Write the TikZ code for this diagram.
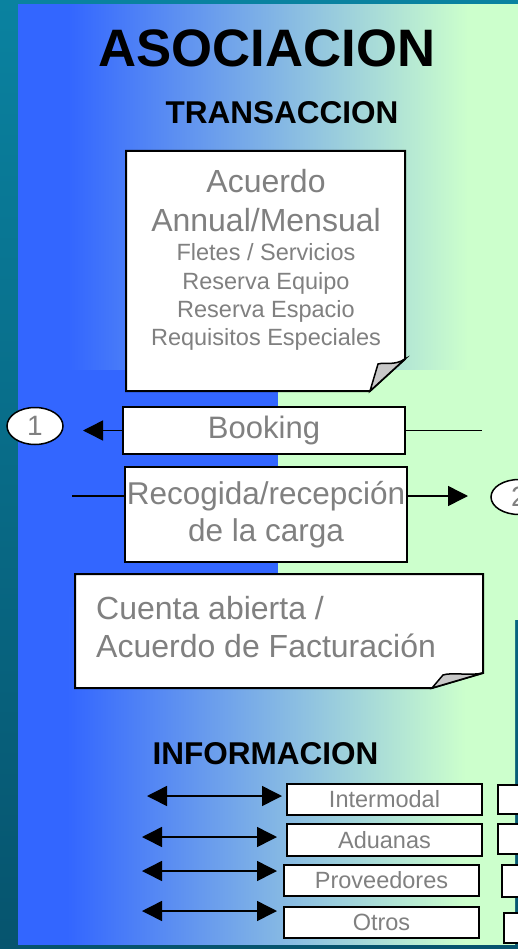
\documentclass[tikz,border=0pt]{standalone}
\usepackage{fontspec}
\setmainfont{Liberation Sans}
\usepackage{tikz}
\usetikzlibrary{arrows.meta, shapes.geometric}
\definecolor{pblue}{RGB}{51,102,255}
\definecolor{pgreen}{RGB}{204,255,204}
\definecolor{txtgray}{RGB}{128,128,128}
\definecolor{foldgray}{RGB}{200,200,200}
\definecolor{seatop}{RGB}{10,130,160}
\definecolor{seabot}{RGB}{6,84,110}
\pgfdeclarehorizontalshading{panelshade}{100bp}{color(0bp)=(pblue); color(30bp)=(pblue); color(70bp)=(pgreen); color(100bp)=(pgreen)}
\tikzset{
	gbox/.style={draw=black, line width=2pt, fill=white, text=txtgray, inner sep=0pt},
	ovalnum/.style={ellipse, draw=black, line width=1.5pt, fill=white, text=txtgray, inner sep=0pt, font=\fontsize{28}{32}\selectfont},
	conn/.style={draw=black, line width=1.5pt},
	tri/.style={-{Triangle[length=20pt,width=20pt]}},
	bitri/.style={{Triangle[length=20pt,width=20pt]}-{Triangle[length=20pt,width=20pt]}},
	headline/.style={anchor=base, font=\bfseries\fontsize{31.5}{36}\selectfont},
	acbig/.style={anchor=base, text=txtgray, inner sep=0pt, font=\fontsize{32}{38}\selectfont},
	acsmall/.style={anchor=base, text=txtgray, inner sep=0pt, font=\fontsize{23.5}{28}\selectfont},
	infobox/.style={gbox, minimum width=195pt, minimum height=31pt, font=\fontsize{23.5}{28}\selectfont},
	stubbox/.style={gbox, minimum width=44pt, minimum height=31pt},
}

\begin{document}
\begin{tikzpicture}[x=1pt, y=-1pt]
	\clip (0,0) rectangle (518,949);
	\shade[top color=seatop, bottom color=seabot] (0,0) rectangle (518,949);
	\shade[shading=panelshade] (18,5) rectangle (518,370);
	\fill[pblue] (18,370) rectangle (278,607);
	\fill[pgreen] (278,370) rectangle (518,620);
	\shade[shading=panelshade] (18,607) rectangle (515,944);

	\node[anchor=base, font=\bfseries\fontsize{52.7}{60}\selectfont] (asoc) at (267,67) {ASOCIACION};
	\node[headline] (trans) at (282,124) {TRANSACCION};

	\draw[line width=2pt, fill=white] (126,151) -- (405,151) -- (405,359) -- (370,391) -- (126,391) -- cycle;
	\draw[line width=1.5pt, fill=foldgray] (405,359) .. controls (394,366) and (385,362) .. (378,364) -- (370,391) -- cycle;
	\node[acbig] (acu) at (266,193) {Acuerdo};
	\node[acbig] (anu) at (266,232) {Annual/Mensual};
	\foreach \txt [count=\i] in {Fletes / Servicios, Reserva Equipo, Reserva Espacio, Requisitos Especiales}
		\node[acsmall] (det\i) at (266,233+28*\i) {\txt};

	\node[gbox, minimum width=282pt, minimum height=47pt, font=\fontsize{31}{36}\selectfont] (book) at (264,430.5) {Booking};
	\node[ovalnum, minimum width=56pt, minimum height=37pt] (one) at (35,426) {1};
	\coordinate (endone) at (83,430.5);
	\coordinate (bookout) at (482,430.5);
	\draw[conn, tri] (book.west) -- (endone);
	\draw[conn] (book.east) -- (bookout);

	\node[gbox, minimum width=282pt, minimum height=95pt, align=center, font=\fontsize{31.5}{37}\selectfont] (recog) at (266,514.5) {Recogida/recepción\\de la carga};
	\node[ovalnum, minimum width=56pt, minimum height=35pt] (two) at (519,497) {2};
	\coordinate (recin) at (72,496);
	\coordinate (recout) at (468,496);
	\draw[conn] (recin) -- (recin -| recog.west);
	\draw[conn, tri] (recin -| recog.east) -- (recout);

	\draw[line width=2pt, fill=white] (75,574) -- (483,574) -- (483,673) -- (432,688) -- (75,688) -- cycle;
	\draw[line width=1.5pt, fill=foldgray] (483,673) .. controls (470,676) and (452,672) .. (443,675) -- (432,688) -- cycle;
	\node[acbig, anchor=base west] (cta1) at (96,619) {Cuenta abierta /};
	\node[acbig, anchor=base west] (cta2) at (96,657) {Acuerdo de Facturación};

	\node[headline] (info) at (265.5,764) {INFORMACION};

	\node[infobox] (inter) at (384.5,799.5) {Intermodal};
	\node[infobox, minimum height=32pt] (adu) at (384.5,840) {Aduanas};
	\node[infobox] (prov) at (381.5,880.5) {Proveedores};
	\node[infobox] (otr) at (381.5,922.5) {Otros};
	\node[stubbox, minimum height=29pt] (inter2) at (520,799.5) {};
	\node[stubbox, minimum height=30pt] (adu2) at (520,839) {};
	\node[stubbox, minimum height=32pt] (prov2) at (524,881) {};
	\node[stubbox, minimum height=30pt] (otr2) at (526,928) {};

	\foreach \nm/\xa/\ya in {inter/147/796, adu/142/837, prov/142/871, otr/142/911} {
		\coordinate (\nm a) at (\xa,\ya);
		\coordinate (\nm b) at (\xa+135,\ya);
		\draw[conn, bitri] (\nm a) -- (\nm b);
	}
\end{tikzpicture}
\end{document}
